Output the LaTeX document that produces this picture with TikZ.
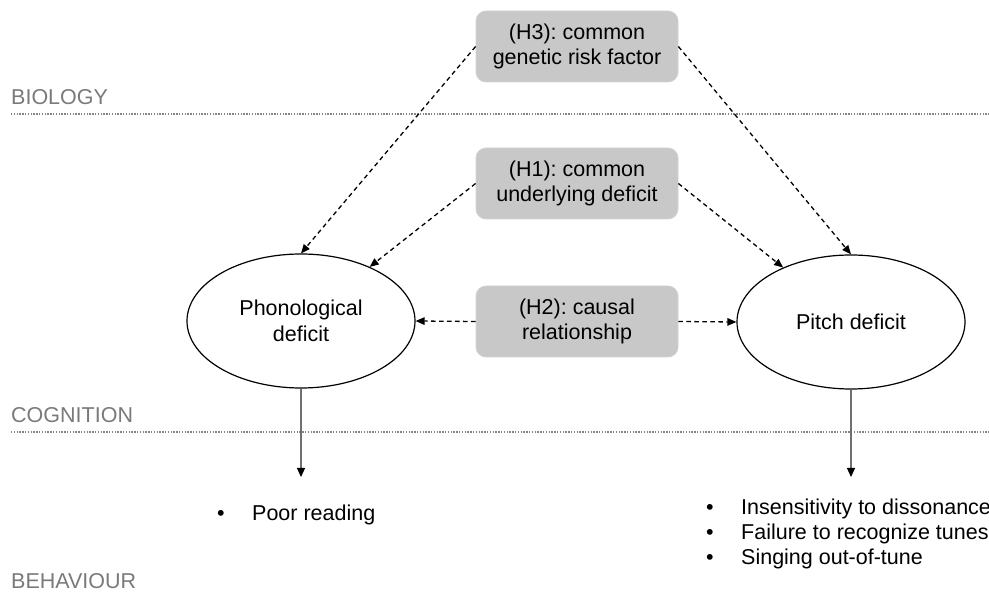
\documentclass[tikz,border=0pt]{standalone}
\usepackage{fontspec}
\setmainfont{Liberation Sans}
\frenchspacing
\usetikzlibrary{shapes.geometric,arrows.meta}
\definecolor{boxfill}{HTML}{C8C8C8}
\definecolor{boxline}{HTML}{D2D2D2}
\definecolor{labelgray}{HTML}{7A7A7A}
\definecolor{dotgray}{HTML}{858585}
\definecolor{stemgray}{HTML}{707070}
\begin{document}
\begin{tikzpicture}[x=1pt,y=-1pt,
  every node/.style={font=\fontsize{21.5}{25.5}\selectfont},
  hbox/.style={rectangle, rounded corners=10pt, fill=boxfill, draw=boxline, line width=0.8pt,
    minimum width=202pt, minimum height=71pt, align=center, inner sep=0pt},
  deficit/.style={ellipse, draw=black, line width=1.2pt, minimum width=228pt, minimum height=134pt,
    align=center, inner sep=0pt},
  layer/.style={text=labelgray, anchor=base west, inner sep=0pt},
  sepline/.style={dotgray, line width=1.8pt, dash pattern=on 1.4pt off 1.4pt},
  dasharrow/.style={draw=black, line width=1.3pt, dash pattern=on 4.5pt off 3.5pt,
    -{Triangle[length=9pt,width=7.5pt]}},
  stem/.style={draw=stemgray, line width=1.2pt, -{Triangle[length=9pt,width=8pt,color=black]}},
  item/.style={anchor=base west, inner sep=0pt}
]
\clip (0,0) rectangle (989,593);
\fill[white] (0,0) rectangle (989,593);

% layer labels and separators
\node[layer] (bio) at (11,105) {BIOLOGY};
\node[layer] (cog) at (11,423) {COGNITION};
\node[layer] (beh) at (11,589) {BEHAVIOUR};
\coordinate (bioL) at (11,114);
\coordinate (bioR) at (989,114);
\coordinate (cogL) at (11,432);
\coordinate (cogR) at (989,432);
\draw[sepline] (bioL) -- (bioR);
\draw[sepline] (cogL) -- (cogR);

% hypothesis boxes
\node[hbox] (h3) at (577,46.5) {(H3): common\\genetic risk factor};
\node[hbox] (h1) at (577,183.5) {(H1): common\\underlying deficit};
\node[hbox] (h2) at (577,321.5) {(H2): causal\\relationship};

% deficits
\node[deficit] (pho) at (301,321) {Phonological\\deficit};
\node[deficit] (pit) at (851,322) {Pitch deficit};

% dashed arrows
\draw[dasharrow] (h3.west) -- (pho.north);
\draw[dasharrow] (h3.east) -- (pit.north);
\draw[dasharrow] (h1.west) -- (pho);
\draw[dasharrow] (h1.east) -- (pit);
\draw[dasharrow] (h2.west) -- (pho.east);
\draw[dasharrow] (h2.east) -- (pit.west);

% stems to behaviour
\coordinate (phoEnd) at (301,477);
\coordinate (pitEnd) at (851,477);
\draw[stem] (pho.south) -- (phoEnd);
\draw[stem] (pit.south) -- (pitEnd);

% behaviour lists
\node[item] (b0) at (217,521) {•};
\node[item] (t0) at (252,521) {Poor reading};
\node[item] (b1) at (706,515) {•};
\node[item] (t1) at (741,515) {Insensitivity to dissonance};
\node[item] (b2) at (706,540) {•};
\node[item] (t2) at (741,540) {Failure to recognize tunes};
\node[item] (b3) at (706,565) {•};
\node[item] (t3) at (741,565) {Singing out-of-tune};
\end{tikzpicture}
\end{document}
